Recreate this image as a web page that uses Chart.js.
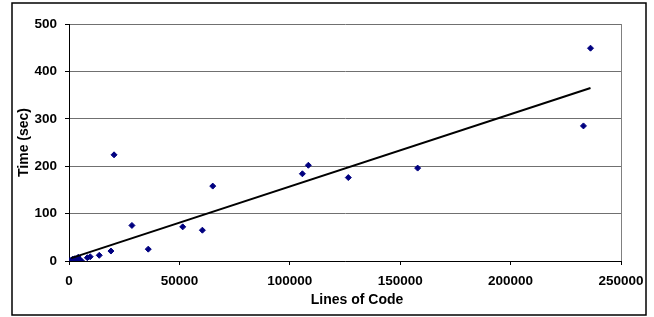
<!DOCTYPE html>
<html>
<head>
<meta charset="utf-8">
<script src="https://cdn.jsdelivr.net/npm/chart.js@4/dist/chart.umd.min.js"></script>
<style>
  html, body { margin: 0; padding: 0; background: #fff; }
  canvas { display: block; }
</style>
</head>
<body>
<canvas id="myChart" width="654" height="317"></canvas>
<script>
const linesOfCode = [500, 1700, 2700, 3800, 4200, 4700, 5700, 8300, 9600, 13700, 19000, 20400, 28500, 35900, 51500, 60400, 65100, 105700, 108400, 126500, 157900, 233000, 236200];
const timeSec = [1, 4, 5, 2, 8, 3, 0, 7, 9, 12, 21, 224, 75, 25, 72, 65, 158, 184, 202, 176, 196, 285, 449];

// trendline end points
const trendX = [1000, 236200];
const trendY = [6, 365];

const xTicks = [0, 50000, 100000, 150000, 200000, 250000];
const yTicks = [0, 100, 200, 300, 400, 500];

const xTitle = 'Lines of Code';
const yTitle = 'Time (sec)';

const tickFont = { family: 'Liberation Sans, Arial, sans-serif', size: 13.5, weight: 'bold' };
const titleFont = { family: 'Liberation Sans, Arial, sans-serif', size: 14, weight: 'bold' };

const toPoints = (xs, ys) => xs.map((x, i) => ({ x: x, y: ys[i] }));

const framePlugin = {
  id: 'frame',
  afterDraw(chart) {
    const ctx = chart.ctx;
    const area = chart.chartArea;
    ctx.save();
    // plot area right edge
    ctx.strokeStyle = '#808080';
    ctx.lineWidth = 1;
    ctx.beginPath();
    ctx.moveTo(Math.round(area.right) + 0.5, area.top);
    ctx.lineTo(Math.round(area.right) + 0.5, area.bottom);
    ctx.stroke();
    // x title sits a bit right of the plot centre in the original
    ctx.fillStyle = '#000';
    ctx.font = 'bold 14px "Liberation Sans", Arial, sans-serif';
    ctx.textAlign = 'center';
    ctx.textBaseline = 'middle';
    ctx.fillText(xTitle, (area.left + area.right) / 2 + 12, 300);
    // outer chart box
    ctx.strokeStyle = '#000';
    ctx.lineWidth = 1.5;
    ctx.strokeRect(12, 3, 634, 312);
    ctx.restore();
  }
};

new Chart("myChart", {
  type: "scatter",
  data: {
    datasets: [
      {
        type: "line",
        data: toPoints(trendX, trendY),
        borderColor: '#000',
        borderWidth: 2,
        pointRadius: 0,
        fill: false,
        order: 0
      },
      {
        data: toPoints(linesOfCode, timeSec),
        pointStyle: 'rectRot',
        pointRadius: 3,
        borderWidth: 1,
        backgroundColor: '#000080',
        borderColor: '#000080',
        order: 1
      }
    ]
  },
  options: {
    responsive: false,
    animation: false,
    layout: {
      padding: { left: 0, right: 33, top: 24, bottom: 0 }
    },
    scales: {
      x: {
        type: 'linear',
        min: xTicks[0],
        max: xTicks[xTicks.length - 1],
        afterBuildTicks: (scale) => { scale.ticks = xTicks.map(v => ({ value: v })); },
        afterFit: (scale) => { scale.height = 56; },
        ticks: {
          color: '#000',
          font: tickFont,
          padding: 8,
          maxRotation: 0,
          callback: (v) => String(v)
        },
        grid: {
          drawOnChartArea: false,
          drawTicks: true,
          tickLength: 4,
          tickColor: '#000'
        },
        border: { color: '#000', width: 1 }
      },
      y: {
        min: yTicks[0],
        max: yTicks[yTicks.length - 1],
        afterBuildTicks: (scale) => { scale.ticks = yTicks.map(v => ({ value: v })); },
        afterFit: (scale) => { scale.width = 69; },
        ticks: {
          color: '#000',
          font: tickFont,
          padding: 8,
          callback: (v) => String(v)
        },
        grid: {
          color: '#707070',
          drawTicks: true,
          tickLength: 4,
          tickColor: '#000'
        },
        border: { color: '#000', width: 1 },
        title: {
          display: true,
          text: yTitle,
          color: '#000',
          font: titleFont,
          padding: { top: 16, bottom: 0 }
        }
      }
    },
    plugins: {
      legend: { display: false },
      tooltip: { enabled: false }
    }
  },
  plugins: [framePlugin]
});
</script>
</body>
</html>
